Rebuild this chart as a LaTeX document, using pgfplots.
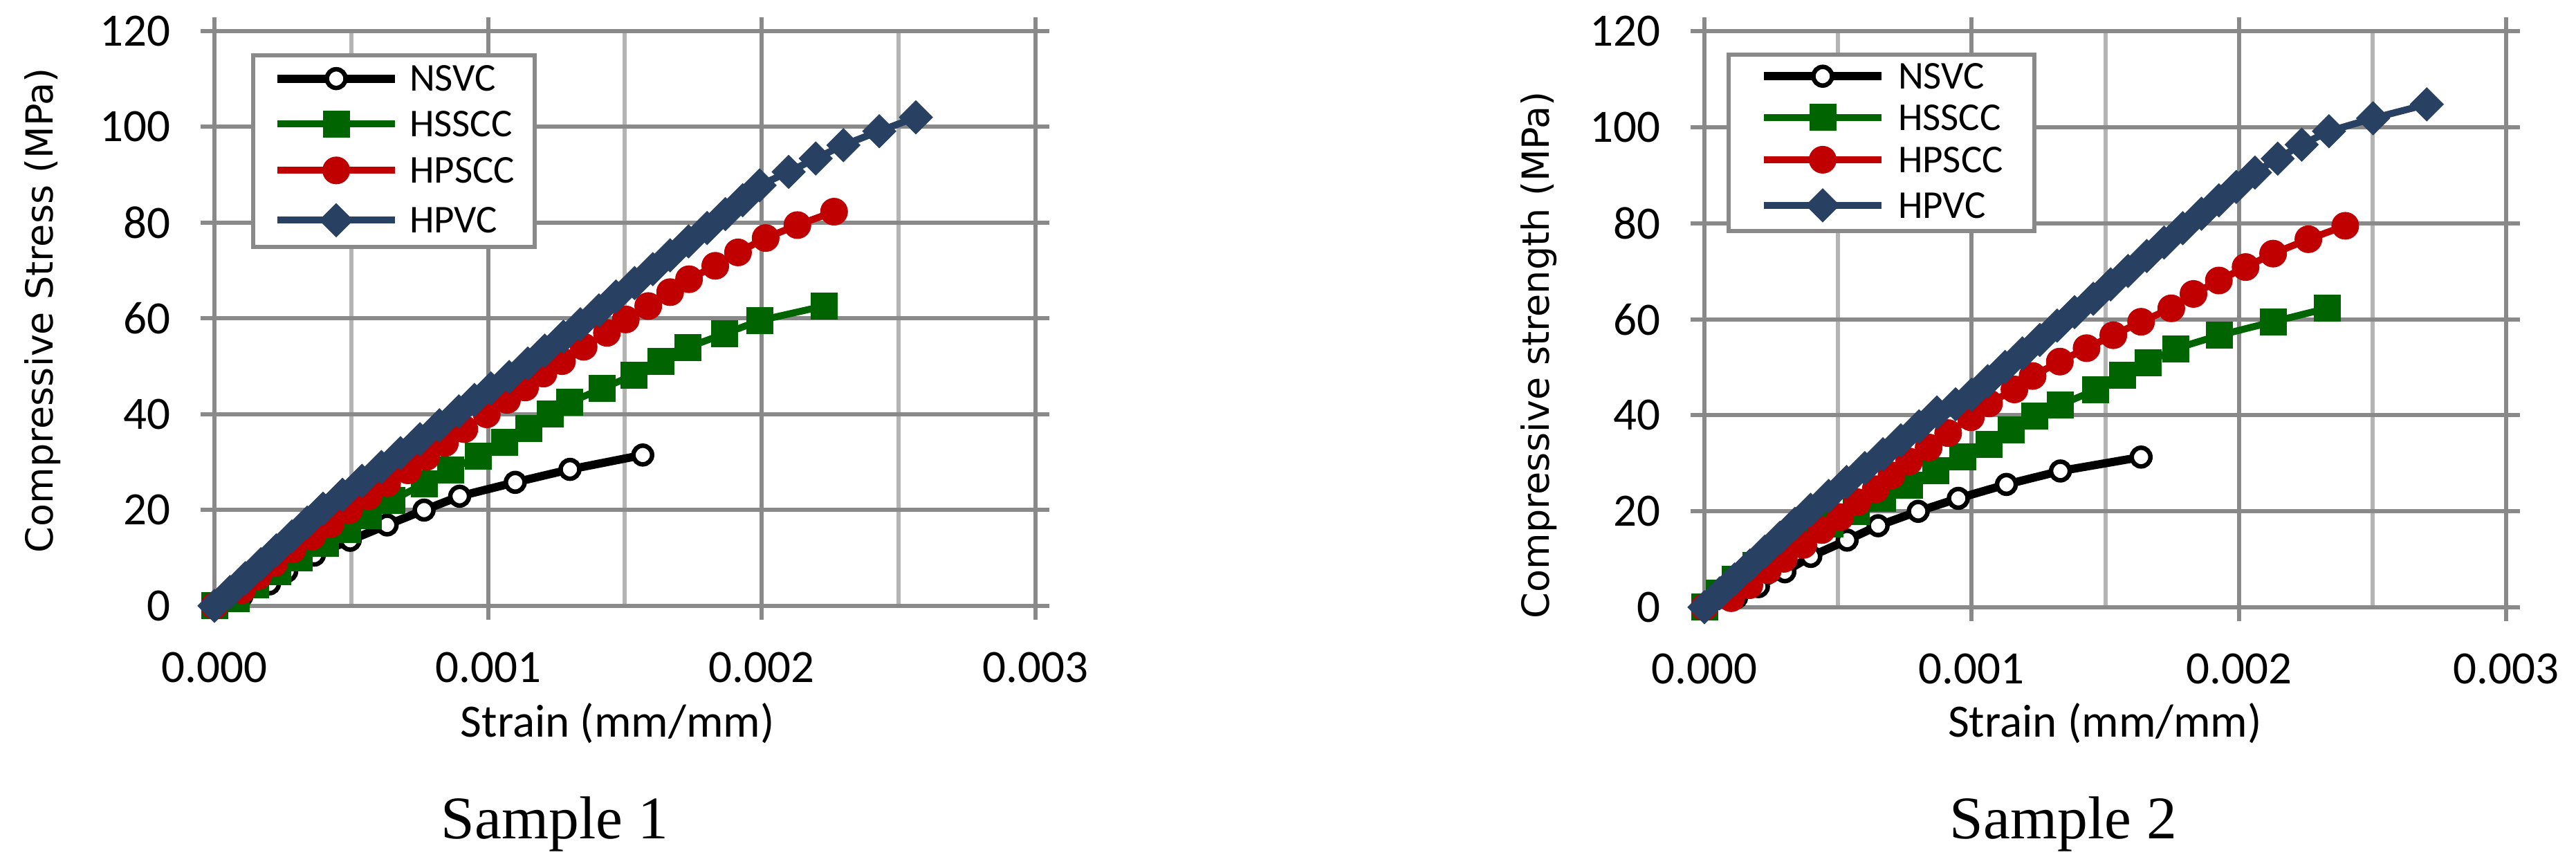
\documentclass[border=0pt]{standalone}
\usepackage{fontspec}
\setmainfont{Carlito}
\newfontfamily\ylabfont{DejaVu Sans}
\newfontfamily\capfont{Liberation Serif}
\usepackage{pgfplots}
\pgfplotsset{compat=1.18}

\definecolor{gridmaj}{RGB}{137,137,137}
\definecolor{gridmin}{RGB}{180,180,180}
\definecolor{nsvc}{RGB}{0,0,0}
\definecolor{hsscc}{RGB}{0,100,0}
\definecolor{hpscc}{RGB}{192,0,0}
\definecolor{hpvc}{RGB}{40,65,99}

\pgfplotsset{
  strain/.style={
    scale only axis,
    xmin=0, xmax=0.003, ymin=0, ymax=120,
    scaled x ticks=false,
    xtick={0,0.001,0.002,0.003},
    xticklabels={0.000,0.001,0.002,0.003},
    minor xtick={0.0005,0.0015,0.0025},
    ytick={0,20,40,60,80,100,120},
    yticklabels={0,20,40,60,80,100,120},
    grid=both,
    major grid style={gridmaj, line width=1.2pt},
    minor grid style={gridmin, line width=1.2pt},
    axis line style={gridmaj, line width=1.2pt},
    tick align=outside,
    major tick length=4pt, minor tick length=0pt,
    tick style={gridmaj, line width=1.2pt},
    ticklabel style={font=\fontsize{13.4}{15}\selectfont},
    yticklabel style={inner sep=0pt, xshift=-8.6pt},
    xticklabel style={inner sep=0pt, yshift=-9.2pt},
    label style={inner sep=0pt},
    xlabel style={font=\fontsize{13.4}{15}\selectfont, anchor=base},
    ylabel style={font=\ylabfont\fontsize{10.8}{12}\selectfont, anchor=center},
    clip=false,
    legend cell align=left,
    legend image code/.code={
      \draw[mark repeat=2, mark phase=2, #1] plot coordinates {(0pt,0pt) (17pt,0pt) (34pt,0pt)};
    },
  },
  snsvc/.style={nsvc, line width=2.4pt, mark=*, mark size=2.7pt,
    mark options={fill=white, draw=black, line width=1.3pt}},
  shsscc/.style={hsscc, line width=2pt, mark=square*, mark size=3.8pt,
    mark options={fill=hsscc, draw=hsscc, line width=0.2pt}},
  shpscc/.style={hpscc, line width=2pt, mark=*, mark size=3.9pt,
    mark options={fill=hpscc, draw=hpscc, line width=0.2pt}},
  shpvc/.style={hpvc, line width=2pt, mark=square*, mark size=3.4pt,
    mark options={fill=hpvc, draw=hpvc, line width=0.2pt, rotate=45}},
}

\begin{document}
\begin{tikzpicture}
\useasboundingbox (0,0) rectangle (744.8pt,250.4pt);

% Sample 1
\begin{axis}[strain,
    at={(62pt,75.2pt)}, anchor=south west,
    width=237.4pt, height=166.2pt,
    xlabel={Strain (mm/mm)},
    ylabel={Compressive Stress (MPa)},
    xlabel style={at={(axis description cs:0.491,-0.2286)}},
    ylabel style={at={(axis description cs:-0.2089,0.514)}},
    legend style={at={(axis description cs:0.0447,0.961)}, anchor=north west,
      draw=gridmaj, line width=1.2pt, fill=white,
      inner xsep=5.8pt, inner ysep=3pt, row sep=5.7pt, column sep=3pt,
      font=\fontsize{11.4}{13}\selectfont,
      nodes={inner sep=0pt, text height=7.3pt, text depth=0pt}},
  ]
  \addplot[snsvc] coordinates {
    (0,0) (0.0001,2.0) (0.000201,4.6) (0.000264,7.2) (0.000365,10.6)
    (0.000496,13.7) (0.000631,16.9) (0.000766,20.0) (0.000896,22.9)
    (0.001099,25.8) (0.001299,28.5) (0.001565,31.5)
  };
  \addplot[shsscc] coordinates {
    (0,0) (0.00008,1.5) (0.00015,4.4) (0.00023,7.1) (0.00031,10.0)
    (0.000405,13.0) (0.000487,15.9) (0.000563,18.8) (0.000648,22.0)
    (0.000766,25.5) (0.000863,28.4) (0.000964,31.3) (0.001061,34.2)
    (0.001148,37.1) (0.001228,40.0) (0.001299,42.5) (0.001417,45.4)
    (0.001532,48.2) (0.001631,51.1) (0.001731,54.0) (0.001863,56.8)
    (0.001994,59.6) (0.002227,62.6)
  };
  \addplot[shpscc] coordinates {
    (0,0) (0.0001,3.3) (0.000159,6.2) (0.000218,8.9) (0.000285,11.8)
    (0.000357,14.5) (0.000424,17.1) (0.000492,20.0) (0.000563,22.9)
    (0.000631,25.6) (0.000707,28.3) (0.000774,31.1) (0.000842,34.0)
    (0.000913,36.9) (0.000995,40.0) (0.001069,43.0) (0.001135,45.6)
    (0.001202,48.5) (0.00127,51.1) (0.001349,54.1) (0.001434,57.0)
    (0.001503,59.8) (0.001585,62.6) (0.001665,65.5) (0.001734,68.2)
    (0.00183,71.0) (0.001913,73.8) (0.002014,76.8) (0.00213,79.5)
    (0.002264,82.3)
  };
  \addplot[shpvc] coordinates {
    (0,0) (0.000057,2.9) (0.000113,5.8) (0.00017,8.7) (0.000226,11.6)
    (0.000283,14.5) (0.000339,17.4) (0.000397,20.3) (0.000468,23.2)
    (0.000539,26.1) (0.00061,29.0) (0.00068,31.9) (0.000751,34.8)
    (0.000822,37.7) (0.000893,40.6) (0.00095,43.0) (0.00101,45.4)
    (0.001077,47.8) (0.001145,50.6) (0.001207,53.3) (0.001275,56.2)
    (0.001337,58.8) (0.001405,61.7) (0.001467,64.6) (0.001535,67.4)
    (0.001602,70.3) (0.001665,73.2) (0.001732,76.1) (0.0018,78.9)
    (0.001867,81.8) (0.00193,84.7) (0.001992,87.8) (0.002098,90.6)
    (0.002197,93.4) (0.002298,96.2) (0.002429,99.1) (0.002563,102.0)
  };
  \legend{NSVC,HSSCC,HPSCC,HPVC}
  \node[font=\capfont\fontsize{17.5}{20}\selectfont, anchor=base, inner sep=0pt]
    at (axis description cs:0.4145,-0.4055) {Sample 1};
\end{axis}

% Sample 2
\begin{axis}[strain,
    at={(492.8pt,74.8pt)}, anchor=south west,
    width=231.8pt, height=166.5pt,
    xlabel={Strain (mm/mm)},
    ylabel={Compressive strength (MPa)},
    xlabel style={at={(axis description cs:0.4996,-0.2258)}},
    ylabel style={at={(axis description cs:-0.2062,0.4384)}},
    legend style={at={(axis description cs:0.0276,0.9634)}, anchor=north west,
      draw=gridmaj, line width=1.2pt, fill=white,
      inner xsep=9pt, inner ysep=2.6pt, row sep=4.5pt, column sep=3.6pt,
      font=\fontsize{11.4}{13}\selectfont,
      nodes={inner sep=0pt, text height=7.3pt, text depth=0pt}},
  ]
  \addplot[snsvc] coordinates {
    (0,0) (0.00012,2.0) (0.000202,4.3) (0.000301,7.4) (0.000398,10.6)
    (0.000534,14.0) (0.00065,17.0) (0.0008,20.0) (0.00095,22.7)
    (0.00113,25.6) (0.001332,28.4) (0.001634,31.3)
  };
  \addplot[shsscc] coordinates {
    (0,0) (0.000056,2.9) (0.000116,5.8) (0.000194,8.7) (0.000271,11.6)
    (0.000366,14.5) (0.000469,17.3) (0.000568,20.0) (0.000667,22.7)
    (0.000768,25.5) (0.000866,28.4) (0.000966,31.3) (0.001065,34.0)
    (0.001148,36.9) (0.001235,39.8) (0.001332,42.2) (0.001465,45.3)
    (0.001565,48.3) (0.00166,51.0) (0.001763,53.9) (0.001928,56.7)
    (0.002128,59.5) (0.00233,62.3)
  };
  \addplot[shpscc] coordinates {
    (0,0) (0.0001,1.9) (0.000168,4.6) (0.000237,7.7) (0.000297,10.1)
    (0.00037,13.0) (0.000439,16.1) (0.000508,18.8) (0.000572,21.9)
    (0.000641,24.6) (0.0007,27.5) (0.000766,30.4) (0.000839,33.3)
    (0.000912,36.3) (0.000997,39.6) (0.001065,42.5) (0.00116,45.4)
    (0.001228,48.2) (0.00133,51.2) (0.00143,54.0) (0.00153,56.7)
    (0.001634,59.5) (0.001747,62.3) (0.00183,65.3) (0.001925,68.1)
    (0.002025,70.9) (0.002128,73.7) (0.00226,76.7) (0.002398,79.5)
  };
  \addplot[shpvc] coordinates {
    (0,0) (0.000057,2.9) (0.000113,5.8) (0.00017,8.7) (0.000226,11.6)
    (0.000283,14.5) (0.000339,17.4) (0.000397,20.3) (0.000465,23.2)
    (0.000532,26.1) (0.0006,29.0) (0.000668,31.9) (0.000735,34.8)
    (0.000803,37.7) (0.00087,40.6) (0.00094,42.3) (0.001,44.3)
    (0.00106,47.1) (0.001125,50.1) (0.00119,52.9) (0.001255,55.7)
    (0.00132,58.7) (0.001385,61.5) (0.001455,64.3) (0.00152,67.3)
    (0.001585,70.1) (0.001655,73.2) (0.00172,76.0) (0.00179,79.0)
    (0.00186,82.0) (0.001925,84.8) (0.00199,87.6) (0.00206,90.6)
    (0.002145,93.5) (0.002235,96.4) (0.002337,99.2) (0.002502,101.9)
    (0.002703,104.8)
  };
  \legend{NSVC,HSSCC,HPSCC,HPVC}
  \node[font=\capfont\fontsize{17.5}{20}\selectfont, anchor=base, inner sep=0pt]
    at (axis description cs:0.4478,-0.4024) {Sample 2};
\end{axis}
\end{tikzpicture}
\end{document}
